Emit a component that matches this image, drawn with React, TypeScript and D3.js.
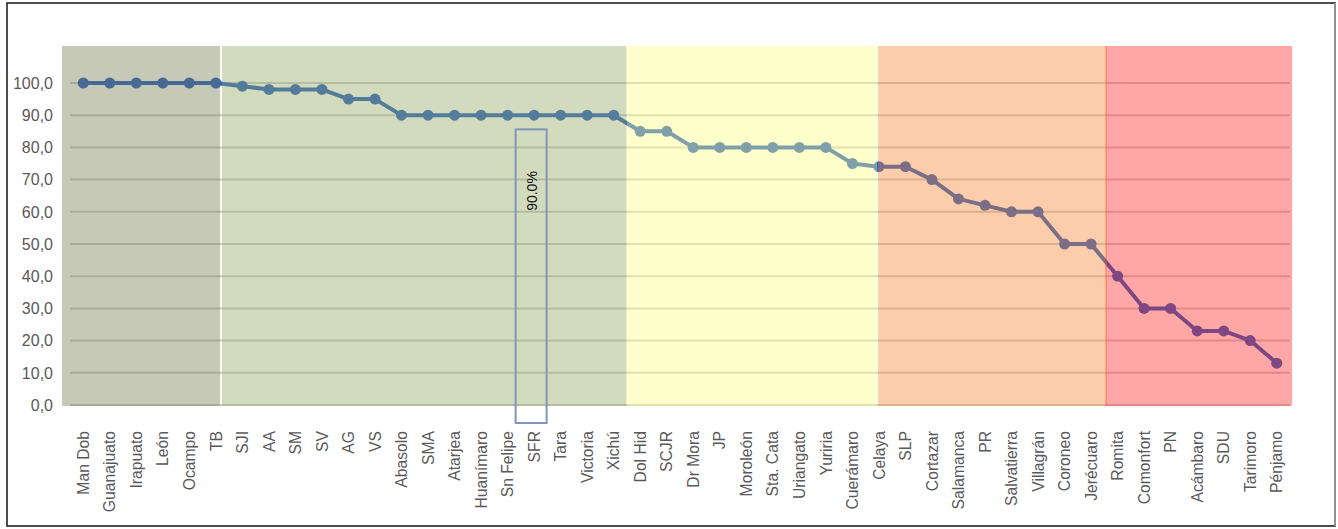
import * as d3 from "d3";

// categorías (municipios) y su valor (%)
const municipios = [
  "Man Dob", "Guanajuato", "Irapuato", "León", "Ocampo", "TB", "SJI", "AA", "SM", "SV",
  "AG", "VS", "Abasolo", "SMA", "Atarjea", "Huanímaro", "Sn Felipe", "SFR", "Tara", "Victoria",
  "Xichú", "Dol Hid", "SCJR", "Dr Mora", "JP", "Moroleón", "Sta. Cata", "Uriangato", "Yuriria", "Cuerámaro",
  "Celaya", "SLP", "Cortazar", "Salamanca", "PR", "Salvatierra", "Villagrán", "Coroneo", "Jerécuaro", "Romita",
  "Comonfort", "PN", "Acámbaro", "SDU", "Tarimoro", "Pénjamo",
];
const valores = [
  100, 100, 100, 100, 100, 100, 99, 98, 98, 98,
  95, 95, 90, 90, 90, 90, 90, 90, 90, 90,
  90, 85, 85, 80, 80, 80, 80, 80, 80, 75,
  74, 74, 70, 64, 62, 60, 60, 50, 50, 40,
  30, 30, 23, 23, 20, 13,
];
const yTicks = [0, 10, 20, 30, 40, 50, 60, 70, 80, 90, 100];

// franjas de fondo, en unidades de categoría (inicio / fin)
const franjaInicio = [-0.3, 5.73, 21.0, 30.47, 39.04];
const franjaFin = [5.66, 20.98, 30.43, 39.1, 46.08];
const franjaColor = ["#70784b", "#91a55f", "#ffff80", "#f5822a", "#ff2121"];
const franjaTope = 111.5;

const anotacion = { categoria: "SFR", valor: 85.6, texto: "90.0%" };

const W = 1338;
const H = 529;
const left = 70;
const right = 1290;
const y0 = 405;
const y100 = 83;
const lineColor = "#2b62c3";
const font = "'Liberation Sans', Arial, sans-serif";

export default function App() {
  const x = d3.scaleBand<string>().domain(municipios).range([left, right]).padding(0);
  const step = x.step();
  const cx = (m: string) => (x(m) ?? 0) + step / 2;
  const y = d3.scaleLinear().domain([0, 100]).range([y0, y100]);
  const slot = (k: number) => left + k * step;

  const pts = municipios.map((m, i) => ({ m, v: valores[i] }));
  const line = d3
    .line<{ m: string; v: number }>()
    .x((d) => cx(d.m))
    .y((d) => y(d.v));

  const fmt = (v: number) => d3.format(".1f")(v).replace(".", ",");
  const ax = cx(anotacion.categoria);

  return (
    <svg
      width={W}
      height={H}
      style={{ position: "absolute", left: 0, top: 0, background: "#fff" }}
      fontFamily={font}
    >
      {/* marco */}
      <rect x={7} y={3} width={1328} height={523} fill="none" stroke="#222" strokeWidth={1.6} />
      <line x1={1335} x2={1335} y1={3} y2={526} stroke="#aaa" strokeWidth={1.5} />

      {/* líneas de cuadrícula */}
      {yTicks.map((t) => (
        <line key={t} x1={left} x2={right} y1={y(t)} y2={y(t)} stroke="#cdcdcd" strokeWidth={2} />
      ))}

      {/* serie */}
      <path d={line(pts) ?? ""} fill="none" stroke={lineColor} strokeWidth={4} strokeLinejoin="round" />
      {pts.map((d) => (
        <circle key={d.m} cx={cx(d.m)} cy={y(d.v)} r={5.5} fill={lineColor} />
      ))}

      {/* franjas semitransparentes encima */}
      {franjaInicio.map((s, i) => (
        <rect
          key={i}
          x={slot(s)}
          y={y(franjaTope)}
          width={slot(franjaFin[i]) - slot(s)}
          height={y(0) - y(franjaTope) + 1}
          fill={franjaColor[i]}
          fillOpacity={0.4}
        />
      ))}

      {/* eje Y */}
      {yTicks.map((t) => (
        <text key={t} x={53} y={y(t)} dy="0.36em" textAnchor="end" fontSize={16} fill="#595959">
          {fmt(t)}
        </text>
      ))}

      {/* etiquetas X */}
      {municipios.map((m) => (
        <text
          key={m}
          transform={`translate(${cx(m)},431) rotate(-90)`}
          dy="0.36em"
          textAnchor="end"
          fontSize={15.7}
          fill="#595959"
        >
          {m}
        </text>
      ))}

      {/* anotación */}
      <rect
        x={ax - 18.5}
        y={y(anotacion.valor)}
        width={31}
        height={423 - y(anotacion.valor)}
        fill="none"
        stroke="#8096ba"
        strokeWidth={2}
      />
      <text
        transform={`translate(${ax - 2.5},191) rotate(-90)`}
        dy="0.36em"
        textAnchor="middle"
        fontSize={14}
        fill="#111"
      >
        {anotacion.texto}
      </text>
    </svg>
  );
}
